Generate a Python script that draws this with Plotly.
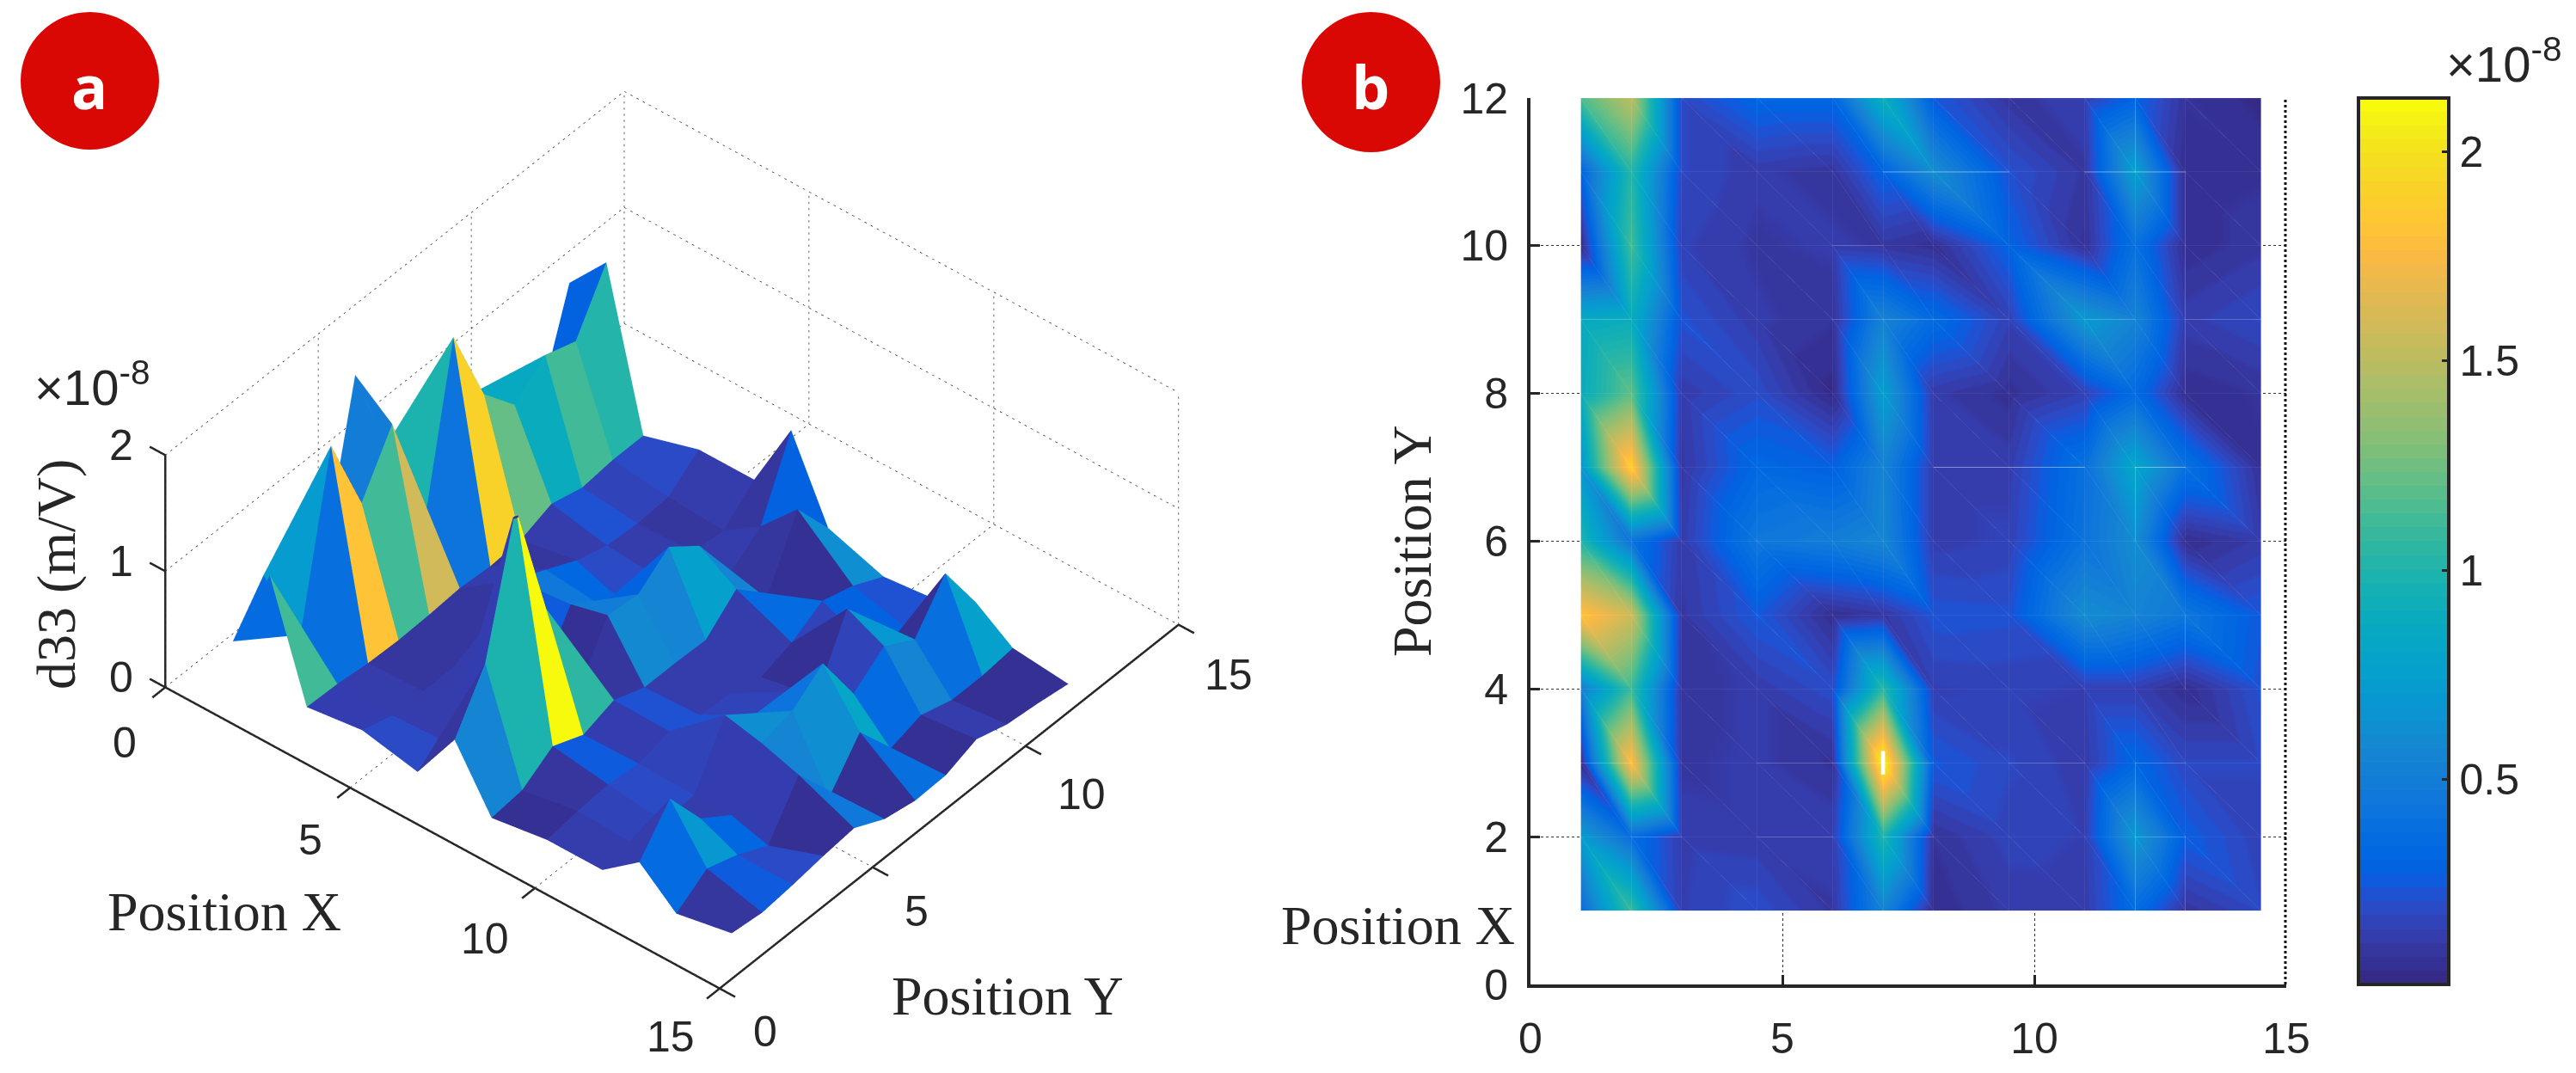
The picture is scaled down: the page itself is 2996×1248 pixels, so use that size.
#!/usr/bin/env python
# coding: utf-8

import numpy as np
import plotly.graph_objects as go

W = 2996
H = 1248
## the page body keeps an 8px margin
FW = W - 8
FH = H - 8

## Data, values in units of 1e-8 m/V
pos_x = [1, 2, 3, 4.5, 6, 7, 8, 9.5, 11, 12, 13, 14.5]
pos_y = [1, 2, 3, 4, 5, 6, 7, 8, 9, 10, 11, 12]
d33_y01 = [0.36, 1.10, 0.14, 0.20, 0.10, 0.55, 0.05, 0.12, 0.12, 0.36, 0.09, 0.18]
d33_y02 = [0.72, 0.38, 0.13, 0.12, 0.14, 1.00, 0.08, 0.16, 0.14, 0.70, 0.27, 0.15]
d33_y03 = [0.04, 1.80, 0.10, 0.12, 0.07, 2.13, 0.25, 0.18, 0.12, 0.32, 0.18, 0.18]
d33_y04 = [0.50, 1.10, 0.09, 0.12, 0.20, 1.05, 0.14, 0.15, 0.14, 0.14, 0.05, 0.22]
d33_y05 = [1.82, 1.57, 0.10, 0.25, 0.05, 0.10, 0.23, 0.22, 0.62, 0.55, 0.45, 0.25]
d33_y06 = [1.00, 0.42, 0.12, 0.45, 0.50, 0.58, 0.13, 0.15, 0.42, 0.62, 0.05, 0.12]
d33_y07 = [0.68, 1.90, 0.10, 0.33, 0.28, 0.55, 0.13, 0.13, 0.40, 0.82, 0.40, 0.07]
d33_y08 = [0.88, 1.20, 0.12, 0.20, 0.03, 0.75, 0.12, 0.06, 0.15, 0.35, 0.05, 0.08]
d33_y09 = [0.85, 0.90, 0.22, 0.12, 0.08, 0.55, 0.35, 0.15, 0.70, 0.55, 0.13, 0.18]
d33_y10 = [0.03, 1.12, 0.15, 0.10, 0.12, 0.10, 0.06, 0.30, 0.07, 0.40, 0.05, 0.10]
d33_y11 = [0.30, 1.03, 0.18, 0.12, 0.09, 0.30, 0.62, 0.22, 0.10, 0.76, 0.05, 0.07]
d33_y12 = [1.15, 1.50, 0.18, 0.32, 0.32, 0.92, 0.25, 0.09, 0.14, 0.30, 0.08, 0.03]
d33 = np.array([d33_y01, d33_y02, d33_y03, d33_y04, d33_y05, d33_y06,
				d33_y07, d33_y08, d33_y09, d33_y10, d33_y11, d33_y12])

ticks_xy = [0, 5, 10, 15]
ticks_z = [0, 1, 2]
ticks_by = [0, 2, 4, 6, 8, 10, 12]
ticks_cb = [0.5, 1, 1.5, 2]
c_min = 0.01
c_max = 2.13

## Brighter mesh seams of panel b: (y, x from, x to) and (x, y from, y to)
seams_h = [(11, 7, 9.5), (11, 11, 13), (10, 6, 7), (9, 1, 2), (9, 6, 9.5), (9, 11, 12), (9, 13, 14.5),
			(3, 1, 2), (3, 4.5, 6), (3, 6, 8), (3, 9.5, 11), (3, 12, 13),
			(2, 2, 3), (2, 4.5, 6), (2, 7, 8), (2, 12, 13), (7, 8, 11), (7, 12, 13)]
seams_v = [(13, 8, 11), (12, 11, 12), (12, 1, 3), (13, 4, 5), (13, 1, 2), (12, 6, 7)]

## parula, 64 levels
parula = [
	(0.2081, 0.1663, 0.5292), (0.2116, 0.1898, 0.5777), (0.2123, 0.2138, 0.6270), (0.2081, 0.2386, 0.6771),
	(0.1959, 0.2645, 0.7279), (0.1707, 0.2919, 0.7792), (0.1253, 0.3242, 0.8303), (0.0591, 0.3598, 0.8683),
	(0.0117, 0.3875, 0.8820), (0.0060, 0.4086, 0.8828), (0.0165, 0.4266, 0.8786), (0.0329, 0.4430, 0.8720),
	(0.0498, 0.4586, 0.8641), (0.0629, 0.4737, 0.8554), (0.0723, 0.4887, 0.8467), (0.0779, 0.5040, 0.8384),
	(0.0793, 0.5200, 0.8312), (0.0749, 0.5375, 0.8263), (0.0641, 0.5570, 0.8240), (0.0488, 0.5772, 0.8228),
	(0.0343, 0.5966, 0.8199), (0.0265, 0.6137, 0.8135), (0.0239, 0.6287, 0.8038), (0.0231, 0.6418, 0.7913),
	(0.0228, 0.6535, 0.7768), (0.0267, 0.6642, 0.7607), (0.0384, 0.6743, 0.7436), (0.0590, 0.6838, 0.7254),
	(0.0843, 0.6928, 0.7062), (0.1133, 0.7015, 0.6859), (0.1453, 0.7098, 0.6646), (0.1801, 0.7177, 0.6424),
	(0.2178, 0.7250, 0.6193), (0.2586, 0.7317, 0.5954), (0.3022, 0.7376, 0.5712), (0.3482, 0.7424, 0.5473),
	(0.3953, 0.7459, 0.5244), (0.4420, 0.7481, 0.5033), (0.4871, 0.7491, 0.4840), (0.5300, 0.7491, 0.4661),
	(0.5709, 0.7485, 0.4494), (0.6099, 0.7473, 0.4337), (0.6473, 0.7456, 0.4188), (0.6834, 0.7435, 0.4044),
	(0.7184, 0.7411, 0.3905), (0.7525, 0.7384, 0.3768), (0.7858, 0.7356, 0.3633), (0.8185, 0.7327, 0.3498),
	(0.8507, 0.7299, 0.3360), (0.8824, 0.7274, 0.3217), (0.9139, 0.7258, 0.3063), (0.9450, 0.7261, 0.2886),
	(0.9739, 0.7314, 0.2666), (0.9938, 0.7455, 0.2403), (0.9990, 0.7653, 0.2164), (0.9955, 0.7861, 0.1967),
	(0.9880, 0.8066, 0.1794), (0.9789, 0.8271, 0.1633), (0.9697, 0.8481, 0.1475), (0.9626, 0.8705, 0.1309),
	(0.9589, 0.8949, 0.1132), (0.9598, 0.9218, 0.0948), (0.9661, 0.9514, 0.0755), (0.9763, 0.9831, 0.0538)]
scale = []
for i, (r, g, b) in enumerate(parula):
	col = "rgb({},{},{})".format(int(r * 255), int(g * 255), int(b * 255))
	scale += [[i / 64, col], [(i + 1) / 64, col]]

ink = "#262626"
sans = "Liberation Sans"
serif = "Liberation Serif"

def px(x):
	return (x - 8) / FW

def py(y):
	return 1 - (y - 8) / FH

fig = go.Figure()

## Corners of every quad of the mesh
nx = len(pos_x)
ny = len(pos_y)
xx, yy = np.meshgrid(pos_x, pos_y)
idx = np.arange(nx * ny).reshape(ny, nx)
c00 = idx[:-1, :-1].ravel()
c10 = idx[:-1, 1:].ravel()
c11 = idx[1:, 1:].ravel()
c01 = idx[1:, :-1].ravel()
cell = d33[:-1, :-1].ravel()
flat = dict(ambient=1, diffuse=0, specular=0, roughness=1, fresnel=0)

## Panel a: faceted surface, each quad coloured by its first corner like surf()
fig.add_trace(go.Mesh3d(
	x=xx.ravel(), y=yy.ravel(), z=d33.ravel(),
	i=np.concatenate([c00, c00]), j=np.concatenate([c10, c11]), k=np.concatenate([c11, c01]),
	intensity=np.concatenate([cell, cell]), intensitymode="cell",
	colorscale=scale, cmin=c_min, cmax=c_max, showscale=False,
	flatshading=True, lighting=flat,
	hoverinfo="skip", scene="scene"))

def seg(x0, y0, z0, x1, y1, z1, lx, ly, lz):
	lx += [x0, x1, None]
	ly += [y0, y1, None]
	lz += [z0, z1, None]

## Dotted walls and floor of the box, short pieces because gl dashes come out too long
def dots(x0, y0, z0, x1, y1, z1, n, lx, ly, lz):
	for s in np.linspace(0, 1, n, endpoint=False):
		e = s + 0.35 / n
		seg(x0 + (x1 - x0) * s, y0 + (y1 - y0) * s, z0 + (z1 - z0) * s,
			x0 + (x1 - x0) * e, y0 + (y1 - y0) * e, z0 + (z1 - z0) * e, lx, ly, lz)

gx, gy, gz = [], [], []
top = ticks_xy[-1]
ztop = ticks_z[-1]
for t in ticks_xy:
	dots(t, 0, 0, t, top, 0, 90, gx, gy, gz)
	dots(0, t, 0, top, t, 0, 90, gx, gy, gz)
	dots(t, top, 0, t, top, ztop, 38, gx, gy, gz)
	dots(0, t, 0, 0, t, ztop, 38, gx, gy, gz)
for t in ticks_z[1:]:
	dots(0, 0, t, 0, top, t, 90, gx, gy, gz)
	dots(0, top, t, top, top, t, 90, gx, gy, gz)
fig.add_trace(go.Scatter3d(x=gx, y=gy, z=gz, mode="lines", scene="scene", hoverinfo="skip",
	line=dict(color="#333333", width=1.5), showlegend=False))

## Solid axes and their ticks
ax, ay, az = [], [], []
seg(0, 0, 0, top, 0, 0, ax, ay, az)
seg(top, 0, 0, top, top, 0, ax, ay, az)
seg(0, 0, 0, 0, 0, ztop, ax, ay, az)
tl = 0.42
for t in ticks_xy:
	seg(t, 0, 0, t, -tl, 0, ax, ay, az)
	seg(top, t, 0, top + tl, t, 0, ax, ay, az)
for t in ticks_z:
	seg(0, 0, t, -tl, 0, t, ax, ay, az)
fig.add_trace(go.Scatter3d(x=ax, y=ay, z=az, mode="lines", scene="scene", hoverinfo="skip",
	line=dict(color=ink, width=5), showlegend=False))

## Tick labels of panel a sit on the scene
f_tick = dict(family=sans, size=50, color=ink)
notes3d = []
for t, dx, dy in zip(ticks_xy, [-47, -46, -58, -57], [-65, -61, -59, -56]):
	notes3d.append(dict(x=t, y=0, z=0, text=str(t), showarrow=False, font=f_tick, xshift=dx, yshift=dy))
for t, dx, dy in zip(ticks_xy, [53, 51, 65, 58], [-50, -51, -56, -58]):
	notes3d.append(dict(x=top, y=t, z=0, text=str(t), showarrow=False, font=f_tick, xshift=dx, yshift=dy))
for t in ticks_z:
	notes3d.append(dict(x=0, y=0, z=t, text=str(t), showarrow=False, font=f_tick, xshift=-51, yshift=11))

## Panel b: same mesh, vertex colours, looked at from straight above
fig.add_trace(go.Mesh3d(
	x=xx.ravel(), y=yy.ravel(), z=d33.ravel(),
	i=np.concatenate([c00, c10]), j=np.concatenate([c10, c11]), k=np.concatenate([c01, c01]),
	intensity=d33.ravel(), colorscale=scale, cmin=c_min, cmax=c_max,
	flatshading=False, lighting=flat, hoverinfo="skip", scene="scene2",
	colorbar=dict(x=px(2743), xanchor="left", xpad=0, y=py(629), yanchor="middle", ypad=0,
		len=1031 / FH, thickness=105, outlinewidth=4, outlinecolor=ink,
		tickvals=ticks_cb, ticktext=["0.5", "1", "1.5", "2"], ticks="inside", ticklen=10,
		tickwidth=3, tickcolor=ink, tickfont=f_tick)))

## Faint seams the renderer left along the mesh
sx, sy, sz = [], [], []
for v in pos_y:
	seg(pos_x[0], v, 2.3, pos_x[-1], v, 2.3, sx, sy, sz)
for v in pos_x:
	seg(v, pos_y[0], 2.3, v, pos_y[-1], 2.3, sx, sy, sz)
for i in range(nx - 1):
	for j in range(ny - 1):
		seg(pos_x[i], pos_y[j + 1], 2.3, pos_x[i + 1], pos_y[j], 2.3, sx, sy, sz)
fig.add_trace(go.Scatter3d(x=sx, y=sy, z=sz, mode="lines", scene="scene2", hoverinfo="skip",
	line=dict(color="white", width=1), opacity=0.13, showlegend=False))

bx, by, bz = [], [], []
for v, a0, a1 in seams_h:
	seg(a0, v, 2.3, a1, v, 2.3, bx, by, bz)
for v, a0, a1 in seams_v:
	seg(v, a0, 2.3, v, a1, 2.3, bx, by, bz)
fig.add_trace(go.Scatter3d(x=bx, y=by, z=bz, mode="lines", scene="scene2", hoverinfo="skip",
	line=dict(color="white", width=1.5), opacity=0.38, showlegend=False))

## White spot of the peak, above the colour range
peak_x = [7, 7]
peak_y = [2.84, 3.16]
fig.add_trace(go.Scatter3d(x=peak_x, y=peak_y, z=[2.4, 2.4], mode="lines", scene="scene2", hoverinfo="skip",
	line=dict(color="white", width=9), showlegend=False))

## Empty 2d axes under the top view
fig.add_trace(go.Scatter(x=[None], y=[None], xaxis="x", yaxis="y", hoverinfo="skip", showlegend=False))

## Text and badges
f_label = dict(family=serif, size=64, color=ink)
notes = []
def note(x, y, text, font, **kw):
	notes.append(dict(x=px(x), y=py(y), xref="paper", yref="paper", text=text, font=font,
		showarrow=False, xanchor="center", yanchor="middle", **kw))
note(261, 1060, "Position X", f_label)
note(1172, 1158, "Position Y", f_label)
note(65, 668, "d33 (m/V)", f_label, textangle=-90)
note(1626, 1076, "Position X", f_label)
note(1642, 629, "Position Y", f_label, textangle=-90)
exp_font = dict(family=sans, size=58, color=ink)
note(107, 447, "\u00d710<sup>-8</sup>", exp_font)
note(2912, 70, "\u00d710<sup>-8</sup>", exp_font)
badge = dict(family="Open Sans", size=70, color="white")
note(104, 100, "<b>a</b>", badge)
note(1594, 100, "<b>b</b>", badge)

shapes = []
for x0, x1, y0, y1 in [(24, 185, 14, 174), (1514, 1675, 14, 177)]:
	shapes.append(dict(type="circle", xref="paper", yref="paper", x0=px(x0), x1=px(x1),
		y0=py(y1), y1=py(y0), fillcolor="#d90805", line=dict(width=0), layer="above"))
## Dotted right edge of the box in panel b
shapes.append(dict(type="line", xref="paper", yref="paper", x0=px(2658), x1=px(2658),
	y0=py(1145), y1=py(114), layer="above", line=dict(color="#111111", width=3, dash="dot")))

off = dict(visible=False)
d = 3.0
ortho = dict(type="orthographic")
origin = dict(x=0, y=0, z=0)
fig.update_layout(
	width=FW, height=FH, margin=dict(l=0, r=0, t=0, b=0, autoexpand=False),
	paper_bgcolor="white", plot_bgcolor="white", showlegend=False,
	scene=dict(
		domain=dict(x=[0, 1547 / FW], y=[0, 1]),
		xaxis=dict(range=[-0.5, 15.5], **off),
		yaxis=dict(range=[-0.5, 15.5], **off),
		zaxis=dict(range=[-0.05, 2.05], **off),
		aspectmode="manual",
		aspectratio=dict(x=1.44, y=1.44, z=0.606),
		camera=dict(projection=ortho, up=dict(x=0, y=0, z=1), center=origin,
			eye=dict(x=0.481 * d, y=-0.581 * d, z=0.656 * d)),
		annotations=notes3d,
		bgcolor="rgba(0,0,0,0)"),
	scene2=dict(
		domain=dict(x=[px(1780), px(2659)], y=[py(1145), py(114)]),
		xaxis=dict(range=[0, 15], **off),
		yaxis=dict(range=[0, 12], **off),
		zaxis=dict(range=[0, 2.5], **off),
		aspectmode="manual",
		aspectratio=dict(x=2 * 879 / 1031, y=2, z=0.1),
		camera=dict(projection=ortho, up=dict(x=0, y=1, z=0), center=origin,
			eye=dict(x=0, y=0, z=d)),
		bgcolor="rgba(0,0,0,0)"),
	xaxis=dict(domain=[px(1780), px(2659)], range=[0, 15], anchor="y",
		tickvals=ticks_xy, ticks="inside", ticklen=11, tickwidth=3, tickcolor=ink,
		tickfont=f_tick, ticklabelstandoff=16,
		showline=True, linecolor=ink, linewidth=4, zeroline=False,
		showgrid=True, gridcolor="#333333", gridwidth=1, griddash="dot"),
	yaxis=dict(domain=[py(1145), py(114)], range=[0, 12], anchor="x",
		tickvals=ticks_by, ticks="inside", ticklen=11, tickwidth=3, tickcolor=ink,
		tickfont=f_tick, ticklabelstandoff=12,
		showline=True, linecolor=ink, linewidth=4, zeroline=False,
		showgrid=True, gridcolor="#333333", gridwidth=1, griddash="dot"),
	annotations=notes, shapes=shapes)

fig.write_html("out.html")
